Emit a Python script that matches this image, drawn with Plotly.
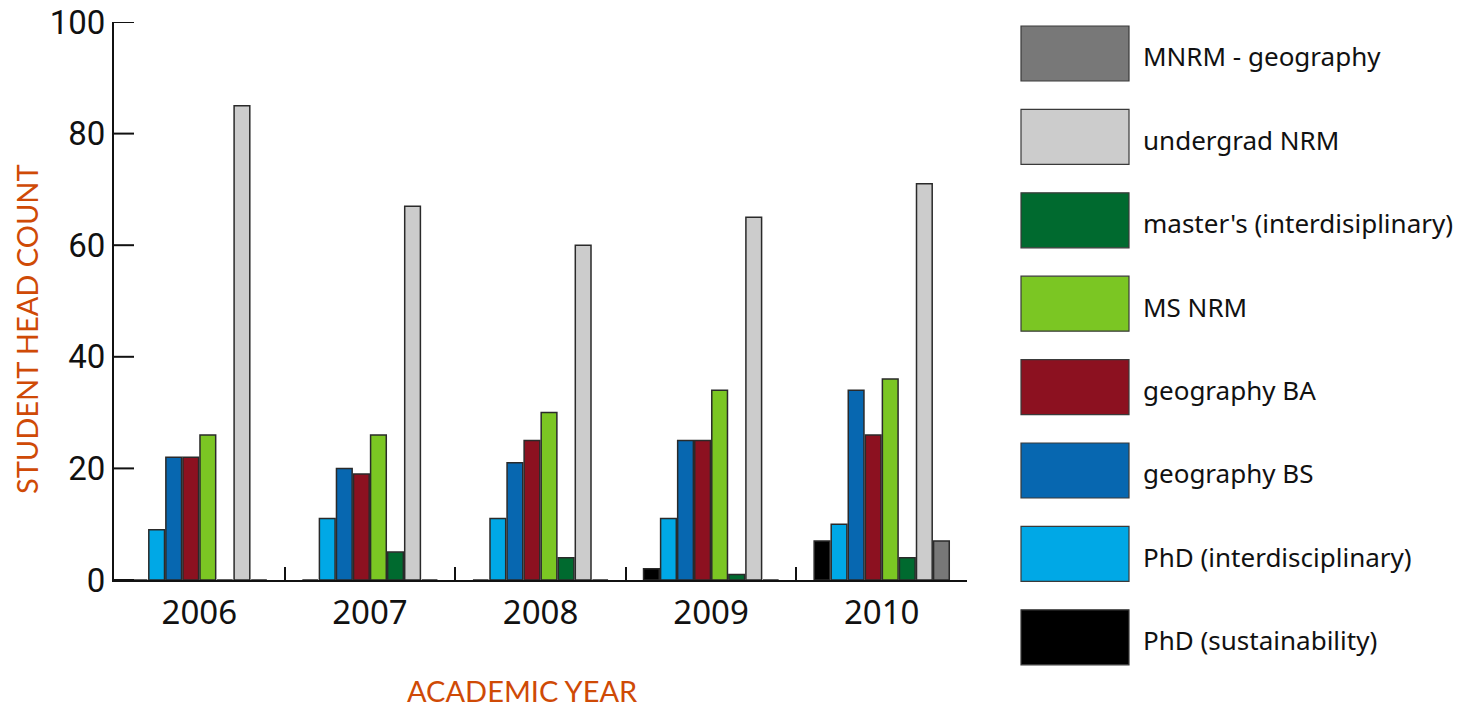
import plotly.graph_objects as go

years = ["2006", "2007", "2008", "2009", "2010"]

series_names = [
    "PhD (sustainability)",
    "PhD (interdisciplinary)",
    "geography BS",
    "geography BA",
    "MS NRM",
    "master's (interdisiplinary)",
    "undergrad NRM",
    "MNRM - geography",
]
phd_sustainability = [0, 0, 0, 2, 7]
phd_interdisciplinary = [9, 11, 11, 11, 10]
geography_bs = [22, 20, 21, 25, 34]
geography_ba = [22, 19, 25, 25, 26]
ms_nrm = [26, 26, 30, 34, 36]
masters_interdisciplinary = [0, 5, 4, 1, 4]
undergrad_nrm = [85, 67, 60, 65, 71]
mnrm_geography = [0, 0, 0, 0, 7]

series_values = [
    phd_sustainability, phd_interdisciplinary, geography_bs, geography_ba,
    ms_nrm, masters_interdisciplinary, undergrad_nrm, mnrm_geography,
]
series_colors = [
    "#000000", "#00A8E6", "#0767B0", "#8C1120",
    "#7BC623", "#006A2F", "#CCCCCC", "#787878",
]

y_ticks = [0, 20, 40, 60, 80, 100]
y_range = [0, 100]

fig = go.Figure()
for name, vals, col in zip(series_names, series_values, series_colors):
    fig.add_trace(go.Bar(
        x=years, y=vals, name=name, showlegend=False,
        marker=dict(color=col, line=dict(color="#2a2a2a", width=1.5)),
    ))

# page body has an 8px margin: work in screen pixels and subtract it
OFF = 8
W, H = 1466 - OFF, 708 - OFF
L, T = 114 - OFF, 22 - OFF
R = W - (967 - OFF)
B = H - (580 - OFF)
pw = W - L - R
ph = H - T - B

def px_x(px):
    return (px - OFF - L) / pw

def px_y(py):
    return (H - B - (py - OFF)) / ph

shapes = []
annotations = []

# y tick marks pointing into the plot (placed on the y scale)
for v in y_ticks:
    shapes.append(dict(
        type="line", xref="paper", yref="y",
        x0=0, x1=20 / pw, y0=v, y1=v,
        line=dict(color="#111111", width=2), layer="above",
    ))

# custom legend (top: last series)
box_h = 55
for i, idx in enumerate(reversed(range(len(series_names)))):
    top = 26 + i * 83.4
    shapes.append(dict(
        type="rect", xref="paper", yref="paper",
        x0=px_x(1021), x1=px_x(1129), y0=px_y(top + box_h), y1=px_y(top),
        fillcolor=series_colors[idx], line=dict(color="#3a3a3a", width=1.2),
    ))
    annotations.append(dict(
        xref="paper", yref="paper", x=px_x(1141), y=px_y(top + box_h / 2 + 3),
        xanchor="left", yanchor="middle", showarrow=False,
        text=series_names[idx],
        font=dict(family="Noto Sans, Open Sans, sans-serif", size=26, color="#111111"),
    ))

title_font = dict(family="Lato, Noto Sans, sans-serif", size=29, color="#CF4A06")
annotations.append(dict(
    xref="paper", yref="paper", x=px_x(26), y=px_y(329),
    xanchor="center", yanchor="middle", showarrow=False, textangle=-90,
    text="STUDENT HEAD COUNT", font=title_font,
))
annotations.append(dict(
    xref="paper", yref="paper", x=px_x(522), y=px_y(690),
    xanchor="center", yanchor="middle", showarrow=False,
    text="ACADEMIC YEAR", font=title_font,
))

fig.update_layout(
    width=W, height=H, autosize=False,
    margin=dict(l=L, r=R, t=T, b=B, autoexpand=False),
    paper_bgcolor="white", plot_bgcolor="white",
    barmode="group", bargap=0.2, bargroupgap=0.08,
    shapes=shapes, annotations=annotations,
    xaxis=dict(
        type="category", showgrid=False, zeroline=False, automargin=False,
        showline=True, linecolor="#111111", linewidth=2,
        ticks="inside", tickson="boundaries", ticklen=13, tickwidth=2, tickcolor="#111111",
        tickfont=dict(family="Noto Sans, Open Sans, sans-serif", size=33, color="#111111"),
        ticklabelstandoff=2,
    ),
    yaxis=dict(
        range=y_range, tickmode="array", tickvals=y_ticks, showgrid=False, zeroline=False,
        automargin=False,
        showline=True, linecolor="#111111", linewidth=2,
        ticks="",
        tickfont=dict(family="Liberation Sans Narrow, Roboto, sans-serif", size=33, color="#111111"),
        ticklabeloverflow="allow",
    ),
)

fig.write_html("out.html")
